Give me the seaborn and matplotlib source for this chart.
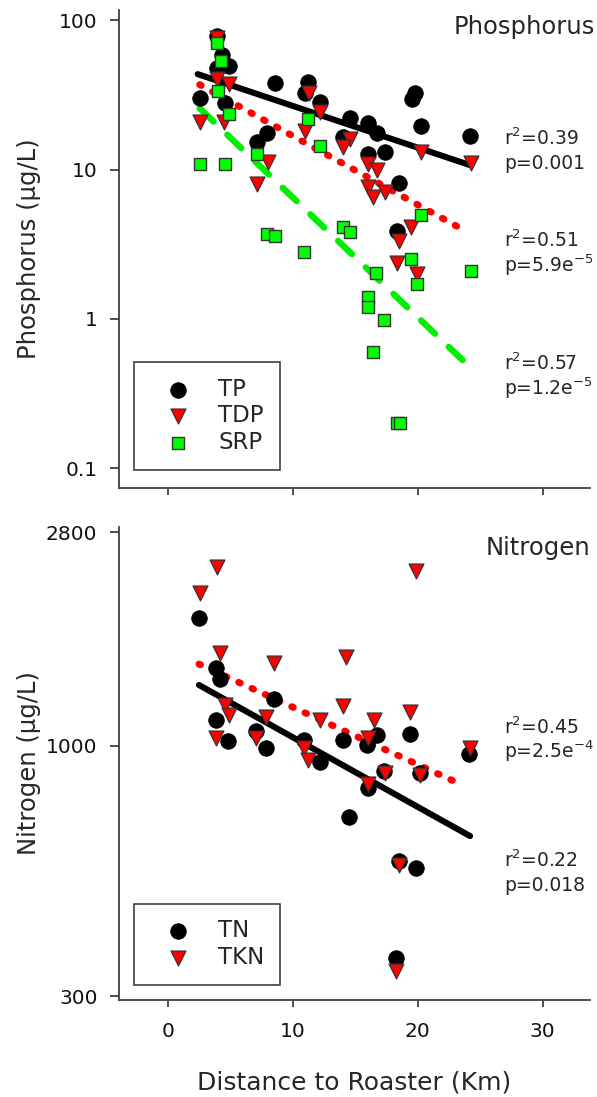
import numpy as np
import matplotlib
matplotlib.use('Agg')
import matplotlib.pyplot as plt
from matplotlib.ticker import NullLocator
import seaborn as sns

sns.set_style('ticks')
plt.rcParams['font.family'] = ['DejaVu Sans']
plt.rcParams['mathtext.fontset'] = 'dejavusans'

# ---- Phosphorus (ug/L) vs distance (km) ----
tp_km = [2.56, 3.92, 4.32, 3.92, 4.88, 4.56, 8.56, 7.12, 7.92, 11.2, 10.96, 12.16,
         14.56, 16.0, 16.72, 14.0, 16.0, 17.36, 19.76, 19.52, 20.24, 24.16, 18.48, 18.32]
tp = [30.0, 78, 58, 48, 49, 28, 38, 15.2, 17.5, 38.4, 32.4, 28.2,
      22.1, 20.4, 17.5, 16.5, 12.7, 13.1, 32.4, 29.6, 19.5, 16.7, 8.1, 3.9]

tdp_km = [2.56, 3.92, 3.92, 4.88, 4.48, 8.0, 7.12, 11.28, 12.16, 10.96, 14.56, 14.0,
          16.0, 16.72, 16.0, 16.4, 17.36, 20.24, 24.24, 19.44, 18.48, 18.32, 19.92]
tdp = [20.7, 75.7, 40.3, 37.3, 20.7, 11.2, 8.0, 32.4, 24.2, 18.1, 16.0, 14.1,
       10.9, 9.9, 7.6, 6.5, 7.05, 13.1, 11.0, 4.1, 3.3, 2.36, 1.99]

srp_km = [3.92, 4.24, 4.0, 4.88, 7.12, 2.56, 4.56, 11.2, 12.16, 7.92, 8.56, 10.88, 14.0,
          14.56, 20.24, 16.64, 16.0, 16.0, 17.28, 19.44, 19.92, 24.24, 16.4, 18.32, 18.56]
srp = [70, 53, 33.5, 23.5, 12.7, 10.85, 10.85, 21.7, 14.3, 3.69, 3.57, 2.79, 4.1,
       3.8, 4.94, 2.02, 1.40, 1.20, 0.99, 2.51, 1.71, 2.08, 0.6, 0.2, 0.2]

# regression lines (end points)
fit_tp_km, fit_tp = [2.4, 24.2], [43.5, 10.7]
fit_tdp_km, fit_tdp = [2.56, 23.3], [37.0, 4.1]
fit_srp_km, fit_srp = [2.56, 23.6], [25.7, 0.53]

p_stats = [('r$^2$=0.39', 'p=0.001'), ('r$^2$=0.51', 'p=5.9e$^{-5}$'), ('r$^2$=0.57', 'p=1.2e$^{-5}$')]

# ---- Nitrogen (ug/L) vs distance (km) ----
tn_km = [2.5, 3.9, 4.22, 8.54, 3.9, 4.82, 7.1, 7.9, 10.88, 12.16, 14.02, 15.98,
         16.74, 19.42, 24.1, 17.3, 20.16, 16.0, 14.5, 18.48, 19.9, 18.3]
tn = [1849, 1457, 1378, 1253, 1133, 1024, 1074, 992, 1029, 927, 1027, 1004,
      1054, 1059, 962, 886, 879, 817, 712, 575, 557, 361]

tkn_km = [3.94, 2.56, 4.22, 8.54, 4.56, 4.88, 7.9, 3.9, 7.1, 12.16, 14.02, 10.9,
          11.22, 14.3, 19.9, 19.42, 16.5, 16.0, 24.2, 17.36, 20.22, 16.0, 18.48, 18.3]
tkn = [2370, 2084, 1562, 1488, 1218, 1160, 1148, 1037, 1037, 1133, 1214, 988,
       934, 1537, 2324, 1179, 1133, 1037, 989, 878, 871, 833, 563, 338]

fit_tn_km, fit_tn = [2.5, 24.2], [1341, 648]
fit_tkn_km, fit_tkn = [2.5, 23.3], [1483, 835]

n_stats = [('r$^2$=0.45', 'p=2.5e$^{-4}$'), ('r$^2$=0.22', 'p=0.018')]

spine_col = '#404040'

fig = plt.figure(figsize=(5.97, 10.97), dpi=100)
ax1 = fig.add_axes([0.1993, 0.5551, 0.789, 0.4357])
ax2 = fig.add_axes([0.1993, 0.0884, 0.789, 0.4312])

dotted = (0, (0.25, 1.85))

# top panel
ax1.plot(fit_tp_km, fit_tp, color='black', lw=4.4, solid_capstyle='round', zorder=2)
ax1.plot(fit_tdp_km, fit_tdp, color='red', lw=5.0, linestyle=dotted,
         dash_capstyle='round', zorder=2)
ax1.plot(fit_srp_km, fit_srp, color='#00ee00', lw=4.6, linestyle=(0, (3.0, 3.0)),
         dash_capstyle='round', zorder=2)
sns.scatterplot(x=tp_km, y=tp, ax=ax1, marker='o', s=125, color='black',
                edgecolor='black', linewidth=0.6, label='TP', zorder=3)
sns.scatterplot(x=tdp_km, y=tdp, ax=ax1, marker='v', s=115, color='red',
                edgecolor='#333333', linewidth=0.9, label='TDP', zorder=3)
sns.scatterplot(x=srp_km, y=srp, ax=ax1, marker='s', s=85, color='#00ff00',
                edgecolor='#333333', linewidth=1.0, label='SRP', zorder=3)

# bottom panel
ax2.plot(fit_tn_km, fit_tn, color='black', lw=4.4, solid_capstyle='round', zorder=2)
ax2.plot(fit_tkn_km, fit_tkn, color='red', lw=5.0, linestyle=dotted,
         dash_capstyle='round', zorder=2)
sns.scatterplot(x=tn_km, y=tn, ax=ax2, marker='o', s=125, color='black',
                edgecolor='black', linewidth=0.6, label='TN', zorder=3)
sns.scatterplot(x=tkn_km, y=tkn, ax=ax2, marker='v', s=115, color='red',
                edgecolor='#333333', linewidth=0.9, label='TKN', zorder=3)

for ax, yticks, ylim in [(ax1, [0.1, 1, 10, 100], (0.0738, 116.7)),
                         (ax2, [300, 1000, 2800], (294.3, 2869))]:
    ax.set_yscale('log')
    ax.set_xlim(-3.9, 33.8)
    ax.set_ylim(*ylim)
    ax.set_xticks([0, 10, 20, 30])
    ax.set_yticks(yticks, [f'{t:g}' for t in yticks])
    ax.yaxis.set_minor_locator(NullLocator())
    sns.despine(ax=ax)
    for s in ['left', 'bottom']:
        ax.spines[s].set_color(spine_col)
        ax.spines[s].set_linewidth(1.3)
    ax.tick_params(axis='y', length=6.5, width=1.3, pad=9, labelsize=14.5,
                   color=spine_col, labelcolor='#111111')
    ax.tick_params(axis='x', length=5, width=1.3, pad=11, labelsize=14.5,
                   color=spine_col, labelcolor='#111111')
    leg = ax.legend(loc='lower left', bbox_to_anchor=(0.032, 0.038 if ax is ax1 else 0.032),
                    borderaxespad=0, frameon=True, fancybox=False, fontsize=16.5,
                    borderpad=0.69, labelspacing=0.16, handlelength=2.45,
                    handletextpad=0.54, edgecolor=spine_col, framealpha=1)
    leg.get_frame().set_linewidth(1.2)

ax1.tick_params(axis='x', labelbottom=False)

ax1.set_ylabel('Phosphorus (µg/L)', fontsize=17.5)
ax2.set_ylabel('Nitrogen (µg/L)', fontsize=17.5)
ax1.yaxis.set_label_coords(-0.1656, 0.5)
ax2.yaxis.set_label_coords(-0.1656, 0.5)
ax2.set_xlabel('Distance to Roaster (Km)', fontsize=18)
ax2.xaxis.set_label_coords(0.5, -0.148)

ax1.text(1.0106, 0.964, 'Phosphorus', transform=ax1.transAxes, ha='right',
         va='center', fontsize=17.5, clip_on=False)
ax2.text(1.0, 0.956, 'Nitrogen', transform=ax2.transAxes, ha='right',
         va='center', fontsize=17.5, clip_on=False)

for (r2, p), (y1, y2) in zip(p_stats, [(0.732, 0.680), (0.519, 0.467), (0.262, 0.209)]):
    ax1.text(0.818, y1, r2, transform=ax1.transAxes, va='center', fontsize=13.5)
    ax1.text(0.818, y2, p, transform=ax1.transAxes, va='center', fontsize=13.5)
for (r2, p), (y1, y2) in zip(n_stats, [(0.577, 0.526), (0.296, 0.243)]):
    ax2.text(0.818, y1, r2, transform=ax2.transAxes, va='center', fontsize=13.5)
    ax2.text(0.818, y2, p, transform=ax2.transAxes, va='center', fontsize=13.5)

fig.savefig('out.png', dpi=100)
